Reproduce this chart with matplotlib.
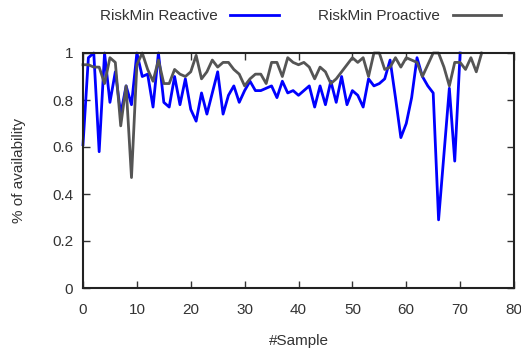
import matplotlib
matplotlib.use("Agg")
import matplotlib.pyplot as plt

plt.rcParams['font.family'] = ['Liberation Sans', 'DejaVu Sans']

reactive = [0.61, 0.98, 1.0, 0.58, 1.0, 0.79, 0.92, 0.74, 0.86, 0.78,
            1.0, 0.90, 0.91, 0.77, 1.0, 0.79, 0.77, 0.90, 0.78, 0.89,
            0.76, 0.71, 0.83, 0.74, 0.83, 0.92, 0.74, 0.82, 0.86, 0.79,
            0.84, 0.88, 0.84, 0.84, 0.85, 0.86, 0.81, 0.88, 0.83, 0.84,
            0.82, 0.84, 0.86, 0.77, 0.86, 0.78, 0.88, 0.79, 0.90, 0.78,
            0.84, 0.82, 0.77, 0.89, 0.86, 0.87, 0.89, 0.97, 0.81, 0.64,
            0.70, 0.81, 0.98, 0.90, 0.86, 0.83, 0.29, 0.57, 0.85, 0.54,
            1.0]
proactive = [0.95, 0.95, 0.94, 0.94, 0.87, 0.98, 0.96, 0.69, 0.86, 0.47,
             0.95, 1.0, 0.93, 0.88, 0.97, 0.87, 0.87, 0.93, 0.91, 0.90,
             0.92, 0.99, 0.89, 0.92, 0.97, 0.94, 0.96, 0.96, 0.93, 0.91,
             0.86, 0.89, 0.91, 0.91, 0.87, 0.96, 0.96, 0.90, 0.98, 0.96,
             0.95, 0.96, 0.94, 0.89, 0.94, 0.92, 0.87, 0.89, 0.92, 0.95,
             0.98, 0.96, 0.98, 0.90, 1.0, 1.0, 0.93, 0.94, 0.98, 0.94,
             0.98, 0.97, 0.96, 0.90, 0.95, 1.0, 1.0, 0.94, 0.86, 0.96,
             0.96, 0.93, 0.98, 0.92, 1.0]
x_reactive = list(range(len(reactive)))
x_proactive = list(range(len(proactive)))

xticks = [0, 10, 20, 30, 40, 50, 60, 70, 80]
yticks = [0, 0.2, 0.4, 0.6, 0.8, 1]
ytick_labels = ['0', '0.2', '0.4', '0.6', '0.8', '1']

fig = plt.figure(figsize=(5.21, 3.52), dpi=100)
ax = fig.add_axes([83/521, 1-288/352, (514-83)/521, (288-53)/352])

l1, = ax.plot(x_reactive, reactive, color='#0000ff', lw=2.0, label='RiskMin Reactive', clip_on=False)
l2, = ax.plot(x_proactive, proactive, color='#555555', lw=2.0, label='RiskMin Proactive', clip_on=False)

ax.set_xlim(0, 80)
ax.set_ylim(0, 1)
ax.set_xticks(xticks)
ax.set_yticks(yticks)
ax.set_yticklabels(ytick_labels)
ax.tick_params(direction='in', length=5, width=1, top=True, right=True,
               labelsize=11, colors='#333333')
ax.tick_params(axis='x', pad=11)
ax.tick_params(axis='y', pad=7)
for s in ax.spines.values():
    s.set_color('#222222')
    s.set_linewidth(1.5)

ax.set_xlabel('#Sample', fontsize=11, color='#333333', labelpad=12)
ax.set_ylabel('% of availability', fontsize=11, color='#333333', labelpad=19)

leg = fig.legend(handles=[l1, l2], loc='upper center', bbox_to_anchor=(0.577, 1.013),
                 ncol=2, frameon=False, markerfirst=False, fontsize=11,
                 handlelength=3.2, columnspacing=2.6, handletextpad=0.8)
for t in leg.get_texts():
    t.set_color('#333333')

fig.savefig('out.png', dpi=100)
